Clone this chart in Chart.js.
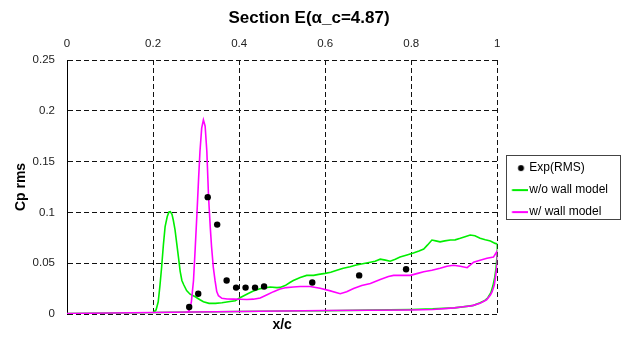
<!DOCTYPE html>
<html>
<head>
<meta charset="utf-8">
<script src="https://cdn.jsdelivr.net/npm/chart.js@4.4.1/dist/chart.umd.min.js"></script>
<style>
  html, body { margin: 0; padding: 0; background: #fff; }
  #c { display: block; }
</style>
</head>
<body>
<canvas id="c" width="621" height="346"></canvas>
<script>
// ---- data ----
const expX = [0.284, 0.305, 0.327, 0.349, 0.371, 0.393, 0.415, 0.437, 0.458, 0.570, 0.679, 0.788];
const expY = [0.0069, 0.020, 0.115, 0.088, 0.033, 0.026, 0.026, 0.026, 0.027, 0.031, 0.038, 0.044];

// w/o wall model: upper branch 0 -> 1, then lower branch 1 -> 0
const greenX = [0, 0.05, 0.1, 0.15, 0.2, 0.207, 0.212, 0.216, 0.220, 0.224, 0.228, 0.233, 0.237, 0.240, 0.244, 0.247, 0.251, 0.255, 0.259, 0.263, 0.267, 0.271, 0.278, 0.286, 0.298, 0.309, 0.317, 0.330, 0.345, 0.360, 0.375, 0.391, 0.402, 0.420, 0.433, 0.450, 0.472, 0.488, 0.495, 0.507, 0.518, 0.526, 0.542, 0.557, 0.573, 0.585, 0.600, 0.613, 0.627, 0.642, 0.658, 0.670, 0.681, 0.693, 0.705, 0.716, 0.728, 0.740, 0.751, 0.763, 0.774, 0.790, 0.805, 0.818, 0.829, 0.838, 0.848, 0.857, 0.867, 0.878, 0.891, 0.902, 0.914, 0.925, 0.937, 0.948, 0.960, 0.972, 0.984, 0.995, 1.0,
  1.0, 0.997, 0.994, 0.990, 0.985, 0.978, 0.970, 0.960, 0.945, 0.920, 0.900, 0.850, 0.800, 0.700, 0.600, 0.500, 0.400, 0.300, 0.200, 0.100, 0];
const greenY = [0.0005, 0.0008, 0.001, 0.0012, 0.0015, 0.004, 0.012, 0.028, 0.0465, 0.068, 0.086, 0.096, 0.1005, 0.1007, 0.098, 0.0925, 0.083, 0.0696, 0.056, 0.042, 0.033, 0.029, 0.023, 0.0195, 0.017, 0.014, 0.012, 0.0105, 0.0105, 0.011, 0.012, 0.013, 0.016, 0.020, 0.0226, 0.025, 0.0265, 0.026, 0.0262, 0.028, 0.031, 0.033, 0.036, 0.038, 0.038, 0.039, 0.040, 0.041, 0.043, 0.045, 0.0465, 0.048, 0.049, 0.050, 0.051, 0.052, 0.054, 0.053, 0.052, 0.054, 0.056, 0.058, 0.060, 0.062, 0.064, 0.068, 0.0728, 0.072, 0.071, 0.072, 0.0728, 0.073, 0.0745, 0.076, 0.0777, 0.077, 0.0745, 0.073, 0.0718, 0.0695, 0.069,
  0.060, 0.045, 0.036, 0.028, 0.021, 0.016, 0.013, 0.011, 0.0085, 0.007, 0.006, 0.005, 0.0045, 0.0038, 0.0032, 0.003, 0.0025, 0.002, 0.0015, 0.001, 0.0005];

// w/ wall model: upper branch 0 -> 1, then lower branch 1 -> 0
const magentaX = [0, 0.1, 0.2, 0.280, 0.285, 0.289, 0.294, 0.298, 0.302, 0.306, 0.309, 0.313, 0.317, 0.321, 0.325, 0.329, 0.333, 0.336, 0.340, 0.344, 0.348, 0.352, 0.360, 0.372, 0.387, 0.402, 0.418, 0.433, 0.449, 0.465, 0.480, 0.495, 0.510, 0.526, 0.542, 0.565, 0.588, 0.610, 0.635, 0.650, 0.666, 0.685, 0.705, 0.728, 0.747, 0.759, 0.780, 0.798, 0.815, 0.829, 0.848, 0.867, 0.883, 0.898, 0.914, 0.930, 0.945, 0.960, 0.976, 0.991, 0.997, 1.0,
  1.0, 0.997, 0.993, 0.988, 0.984, 0.975, 0.960, 0.940, 0.921, 0.900, 0.850, 0.800, 0.700, 0.600, 0.500, 0.400, 0.290, 0.200, 0.100, 0];
const magentaY = [0.0005, 0.001, 0.0015, 0.002, 0.004, 0.012, 0.033, 0.065, 0.099, 0.135, 0.160, 0.183, 0.191, 0.185, 0.160, 0.115, 0.085, 0.066, 0.046, 0.033, 0.022, 0.018, 0.0154, 0.0148, 0.0146, 0.0145, 0.0142, 0.0146, 0.0158, 0.019, 0.022, 0.0246, 0.026, 0.0265, 0.027, 0.027, 0.0253, 0.023, 0.020, 0.022, 0.025, 0.028, 0.030, 0.034, 0.037, 0.038, 0.038, 0.038, 0.040, 0.0416, 0.043, 0.045, 0.047, 0.048, 0.047, 0.0456, 0.051, 0.053, 0.0548, 0.056, 0.060, 0.062,
  0.050, 0.040, 0.0285, 0.022, 0.0187, 0.014, 0.0105, 0.008, 0.0072, 0.006, 0.0045, 0.004, 0.0037, 0.0034, 0.003, 0.0025, 0.002, 0.0015, 0.001, 0.0005];

const seriesNames = ['Exp(RMS)', 'w/o wall model', 'w/ wall model'];
const xTicks = [0, 0.2, 0.4, 0.6, 0.8, 1];
const xTickLabels = ['0', '0.2', '0.4', '0.6', '0.8', '1'];
const yTicks = [0, 0.05, 0.1, 0.15, 0.2, 0.25];
const yTickLabels = ['0', '0.05', '0.1', '0.15', '0.2', '0.25'];

// ---- styling ----
const GREEN = '#00ee00';
const MAGENTA = '#ff00ff';
const FONT = 'Liberation Sans, Arial, sans-serif';

const toPts = (xs, ys) => xs.map((x, i) => ({x: x, y: ys[i]}));

function icon(kind, color) {
  const c = document.createElement('canvas');
  c.width = 26; c.height = 12;
  const g = c.getContext('2d');
  if (kind === 'dot') {
    g.fillStyle = '#000';
    g.beginPath(); g.arc(18.7, 6, 3, 0, Math.PI * 2); g.fill();
  } else {
    g.strokeStyle = color; g.lineWidth = 2;
    g.beginPath(); g.moveTo(9.7, 6); g.lineTo(26, 6); g.stroke();
  }
  return c;
}
const icons = [icon('dot'), icon('line', GREEN), icon('line', MAGENTA)];

const legendBox = {
  id: 'legendBox',
  afterDraw(chart) {
    const hb = chart.legend && chart.legend.legendHitBoxes;
    if (!hb || !hb.length) return;
    let L = Infinity, T = Infinity, R = -Infinity, B = -Infinity;
    hb.forEach(h => { L = Math.min(L, h.left); T = Math.min(T, h.top); R = Math.max(R, h.left + h.width); B = Math.max(B, h.top + h.height); });
    const ctx = chart.ctx;
    const x0 = Math.round(L) - 0.5, y0 = Math.round(T - 7) + 0.5;
    const x1 = Math.round(R + 13) - 0.5, y1 = Math.round(B + 1) + 0.5;
    ctx.save();
    ctx.strokeStyle = '#444';
    ctx.lineWidth = 1;
    ctx.strokeRect(x0, y0, x1 - x0, y1 - y0);
    ctx.restore();
  }
};

Chart.defaults.font.family = FONT;
Chart.defaults.color = '#222';

new Chart(document.getElementById('c'), {
  type: 'scatter',
  data: {
    datasets: [
      { label: seriesNames[0], data: toPts(expX, expY), showLine: false, pointRadius: 3.2, pointBackgroundColor: '#000', pointBorderColor: '#000', pointBorderWidth: 0, order: 0 },
      { label: seriesNames[1], data: toPts(greenX, greenY), showLine: true, pointRadius: 0, borderColor: GREEN, backgroundColor: GREEN, borderWidth: 1.6, tension: 0, order: 2 },
      { label: seriesNames[2], data: toPts(magentaX, magentaY), showLine: true, pointRadius: 0, borderColor: MAGENTA, backgroundColor: MAGENTA, borderWidth: 1.6, tension: 0, order: 1 }
    ]
  },
  options: {
    responsive: false,
    animation: false,
    layout: { padding: { left: 0, right: 3, top: 0, bottom: 0 } },
    plugins: {
      tooltip: { enabled: false },
      title: {
        display: true,
        text: 'Section E(α_c=4.87)',
        color: '#000',
        font: { family: FONT, size: 17, weight: 'bold' },
        padding: { top: 8, bottom: 4 }
      },
      legend: {
        position: 'right',
        fullSize: false,
        title: { display: true, text: ' ', font: { size: 1 }, padding: { top: 0, bottom: 5 } },
        labels: {
          usePointStyle: true,
          pointStyleWidth: 16,
          padding: 10,
          color: '#000',
          font: { family: FONT, size: 12 },
          sort: (a, b) => a.datasetIndex - b.datasetIndex,
          generateLabels(chart) {
            const items = Chart.defaults.plugins.legend.labels.generateLabels(chart);
            items.forEach(it => { it.pointStyle = icons[it.datasetIndex]; it.fontColor = '#000'; });
            return items;
          }
        }
      }
    },
    scales: {
      x: {
        type: 'linear',
        position: 'top',
        min: 0, max: 1,
        afterFit: s => { s.height = 27.6; },
        afterBuildTicks: s => { s.ticks = xTicks.map(v => ({value: v})); },
        ticks: { padding: 9, font: { family: FONT, size: 11.5 }, color: '#222', callback: (v, i) => xTickLabels[i] },
        grid: { color: '#111', lineWidth: 1, drawTicks: false },
        border: { display: false, dash: [5, 3] }
      },
      xb: {
        type: 'linear',
        position: 'bottom',
        min: 0, max: 1,
        afterFit: s => { s.height = 32; },
        ticks: { display: false },
        grid: { display: false, drawTicks: false },
        border: { display: false },
        title: { display: true, text: 'x/c', color: '#000', font: { family: FONT, size: 14, weight: 'bold' }, padding: { top: 0, bottom: 12.6 } }
      },
      y: {
        type: 'linear',
        min: 0, max: 0.25,
        afterFit: s => { s.width = 67; },
        afterBuildTicks: s => { s.ticks = yTicks.map(v => ({value: v})); },
        ticks: { padding: 12, font: { family: FONT, size: 11.5 }, color: '#222', callback: (v, i) => yTickLabels[i] },
        grid: { color: '#111', lineWidth: 1, drawTicks: false },
        border: { display: true, color: '#000', width: 1, dash: [5, 3] },
        title: { display: true, text: 'Cp rms', color: '#000', font: { family: FONT, size: 14, weight: 'bold' }, padding: { top: 13, bottom: 0 } }
      }
    }
  },
  plugins: [legendBox]
});
</script>
</body>
</html>
